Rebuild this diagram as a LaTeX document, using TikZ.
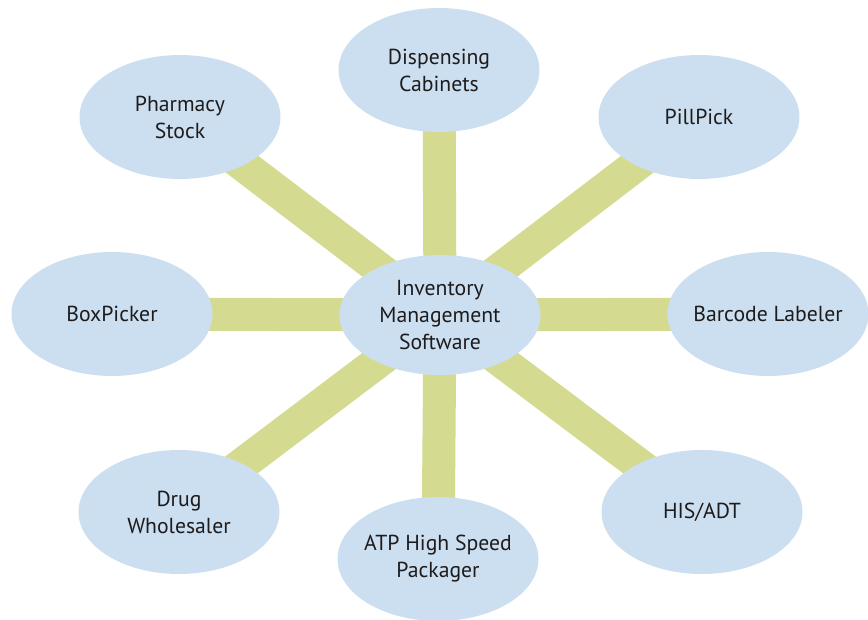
\documentclass[tikz,border=0pt]{standalone}
\usepackage{fontspec}
\setmainfont{PT Sans}
\usetikzlibrary{shapes.geometric,backgrounds}
\definecolor{bubble}{HTML}{CCDFF0}
\definecolor{spokecol}{HTML}{D4DB90}
\definecolor{ink}{HTML}{1E1B1C}
\tikzset{
  bubble/.style={ellipse, fill=bubble, draw=none, minimum width=201pt, minimum height=124pt,
    inner xsep=-10pt, inner ysep=0pt, align=center, text=ink,
    font=\fontsize{21.7}{27}\selectfont},
  spoke/.style={draw=spokecol, line width=33pt}
}
\begin{document}
\begin{tikzpicture}[x=1pt,y=-1pt]
\useasboundingbox (0,0) rectangle (868,619);
\node[bubble, minimum height=120pt] (c) at (440,315) {Inventory\\Management\\Software};
\node[bubble] (disp) at (439,70) {Dispensing\\Cabinets};
\node[bubble] (pharm) at (180,117) {Pharmacy\\Stock};
\node[bubble] (pill) at (699,117) {PillPick};
\node[bubble] (box) at (112,314) {BoxPicker};
\node[bubble] (bar) at (768,314) {Barcode Labeler};
\node[bubble] (drug) at (179,512) {Drug\\Wholesaler};
\node[bubble] (atp) at (438,559) {ATP High Speed\\Packager};
\node[bubble] (his) at (702,512) {HIS/ADT};
\begin{scope}[on background layer]
\foreach \n in {disp,pharm,pill,box,bar,drug,atp,his}
  \draw[spoke] (c.center) -- (\n.center);
\end{scope}
\end{tikzpicture}
\end{document}
